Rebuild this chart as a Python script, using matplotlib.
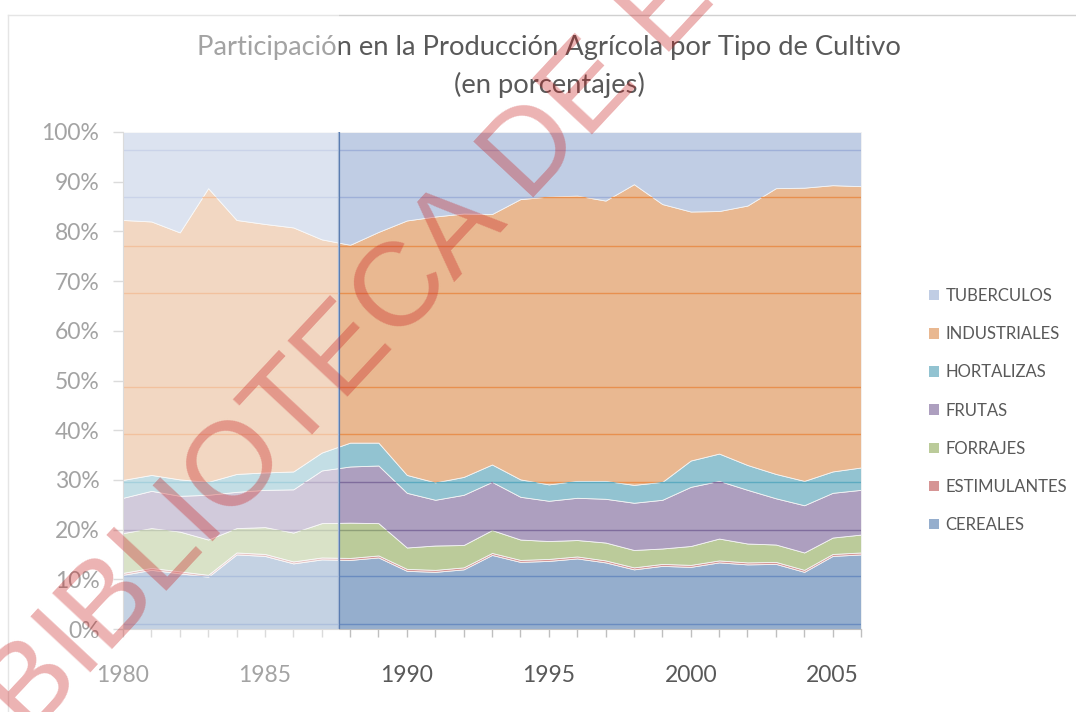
import numpy as np
import matplotlib
matplotlib.use("Agg")
import matplotlib.pyplot as plt
from matplotlib.patches import Rectangle
from matplotlib.lines import Line2D

# --- data (percent share per year) ---
years = list(range(1980, 2007))
cereales = [10.9, 11.9, 11.2, 10.5, 15.0, 14.7, 13.2, 14.0, 13.9, 14.4, 11.7, 11.5, 12.0, 14.9,
            13.5, 13.7, 14.2, 13.4, 12.0, 12.7, 12.5, 13.4, 13.0, 13.1, 11.5, 14.7, 15.0]
estimulantes = [0.4] * 27
forrajes = [8.0, 8.0, 8.0, 7.1, 4.9, 5.4, 5.8, 6.9, 7.1, 6.5, 4.3, 4.9, 4.5, 4.6,
            4.1, 3.6, 3.3, 3.6, 3.5, 3.1, 3.8, 4.4, 3.8, 3.5, 3.5, 3.3, 3.6]
frutas = [7.1, 7.5, 7.2, 9.0, 7.3, 7.5, 8.7, 10.6, 11.3, 11.6, 11.0, 9.2, 10.1, 9.7,
          8.6, 8.1, 8.5, 8.8, 9.5, 9.8, 11.9, 11.6, 10.8, 9.3, 9.5, 9.0, 9.0]
hortalizas = [3.6, 3.2, 3.3, 2.6, 3.6, 3.5, 3.6, 3.6, 4.8, 4.6, 3.6, 3.5, 3.6, 3.5,
              3.5, 3.3, 3.4, 3.6, 3.6, 3.6, 5.3, 5.5, 5.0, 4.9, 4.9, 4.3, 4.5]
industriales = [52.3, 51.0, 49.7, 59.1, 51.1, 50.0, 49.1, 42.9, 39.8, 42.4, 51.2, 53.5, 53.0, 50.4,
                56.4, 57.9, 57.4, 56.4, 60.5, 55.9, 50.1, 48.8, 52.2, 57.5, 59.0, 57.6, 56.6]
tuberculos = [17.7, 18.0, 20.2, 11.3, 17.7, 18.5, 19.2, 21.6, 22.7, 20.1, 17.8, 17.0, 16.4, 16.5,
              13.5, 13.0, 12.8, 13.8, 10.5, 14.5, 16.0, 15.9, 14.8, 11.3, 11.2, 10.7, 10.9]

series_names = ["CEREALES", "ESTIMULANTES", "FORRAJES", "FRUTAS", "HORTALIZAS", "INDUSTRIALES", "TUBERCULOS"]
series_vals = [cereales, estimulantes, forrajes, frutas, hortalizas, industriales, tuberculos]
fill_colors = ["#95AECD", "#D69595", "#BBCB9A", "#AD9FBF", "#92C3D1", "#E9B891", "#C0CDE4"]
line_colors = ["#6A8CC0", "#6A8CC0", "#8F9F78", "#7F6C9C", "#5CAAC0", "#E8904F", "#9FB0D8"]

# odd horizontal lines that show through the areas
stray_lines = [1.0, 10.6, 20.0, 29.5, 39.2, 48.6, 67.7, 77.1, 86.9, 96.3]
washed_until = 1987.6

plt.rcParams['font.family'] = ['Lato', 'DejaVu Sans']
txt_col = "#595959"

fig = plt.figure(figsize=(10.76, 7.12), dpi=100)
ax = fig.add_axes([123 / 1076, 1 - 629 / 712, (861 - 123) / 1076, (629 - 132) / 712])

x = np.array(years, dtype=float)
bottom = np.zeros(len(years))
for name, vals, fc, lc in zip(series_names, series_vals, fill_colors, line_colors):
    top = bottom + np.array(vals)
    if name == "TUBERCULOS":
        top = np.full(len(years), 100.0)
    poly = ax.fill_between(x, bottom, top, facecolor=fc, edgecolor="#F4F4F4",
                           linewidth=0.6, zorder=2)
    hl = ax.hlines(stray_lines, 1980, 2006, colors=lc, linewidth=1.0, zorder=3)
    hl.set_clip_path(poly.get_paths()[0], ax.transData)
    bottom = top

ax.axvline(washed_until, color="#5B7DB1", linewidth=1.6, zorder=4)

ax.set_xlim(1980, 2006)
ax.set_ylim(0, 100)
ax.set_yticks(range(0, 101, 10))
ax.set_yticklabels([f"{v}%" for v in range(0, 101, 10)])
ax.set_xticks(years)
ax.set_xticklabels([str(y) if y % 5 == 0 else "" for y in years])
ax.tick_params(axis="y", length=7, width=1, color="#BFBFBF", pad=10, labelsize=16.5, labelcolor=txt_col)
ax.tick_params(axis="x", length=6, width=1, color="#BFBFBF", pad=20, labelsize=16.5, labelcolor=txt_col)
for s in ["top", "right"]:
    ax.spines[s].set_visible(False)
for s in ["left", "bottom"]:
    ax.spines[s].set_color("#BFBFBF")
    ax.spines[s].set_zorder(5)

# title
fig.text(549 / 1076, 1 - 47 / 712, "Participación en la Producción Agrícola por Tipo de Cultivo",
         ha="center", va="center", fontsize=19.7, color=txt_col)
fig.text(549 / 1076, 1 - 85 / 712, "(en porcentajes)",
         ha="center", va="center", fontsize=19.7, color=txt_col)

# legend
handles = [Rectangle((0, 0), 1, 1, facecolor=c, edgecolor="none") for c in fill_colors[::-1]]
leg = fig.legend(handles, series_names[::-1], loc="upper left",
                 bbox_to_anchor=(914 / 1076, 1 - 273 / 712), frameon=False,
                 fontsize=12, labelcolor=txt_col, handlelength=0.6, handleheight=0.6,
                 handletextpad=0.4, labelspacing=1.33)

# chart border
fig.add_artist(Line2D([8 / 1076, 8 / 1076], [0, 1 - 15 / 712], transform=fig.transFigure,
                      color="#D0D0D0", linewidth=1))
fig.add_artist(Line2D([8 / 1076, 1], [1 - 15 / 712, 1 - 15 / 712], transform=fig.transFigure,
                      color="#D0D0D0", linewidth=1))

# washed-out left band
fig.add_artist(Rectangle((0, 0), 339 / 1076, 1, transform=fig.transFigure,
                         facecolor="white", edgecolor="none", alpha=0.45, zorder=20))

# watermark
fig.text(29 / 1076, 1 - 738 / 712, "BIBLIOTECA DE E", rotation=47, rotation_mode="anchor",
         ha="left", va="baseline", fontsize=86, family="Liberation Sans",
         color="#C81E1E", alpha=0.34, zorder=30)

fig.savefig("out.png", dpi=100)
